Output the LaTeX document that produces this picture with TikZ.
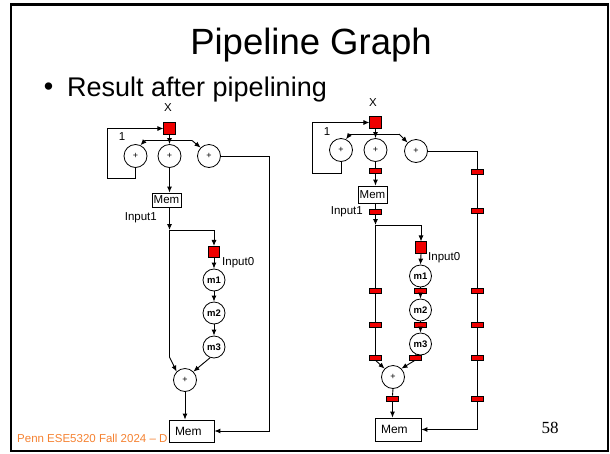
\documentclass[tikz,border=0pt]{standalone}
\usepackage{fontspec}
\setmainfont{Liberation Sans}
\newfontfamily\timesf{Liberation Serif}
\usetikzlibrary{arrows.meta}
\definecolor{pennorange}{RGB}{245,130,50}
\definecolor{regred}{RGB}{240,0,0}
\begin{document}
\begin{tikzpicture}[x=1pt,y=-1pt,
  every node/.style={inner sep=0pt},
  op/.style={circle,draw,line width=0.8pt,minimum size=23pt,fill=white,font=\fontsize{9}{9}\selectfont},
  mop/.style={circle,draw,line width=0.8pt,minimum size=22pt,fill=white,font=\bfseries\fontsize{9.5}{9.5}\selectfont},
  rsq/.style={draw,fill=regred,minimum size=11.5pt,line width=0.6pt},
  reg/.style={draw,fill=regred,minimum width=12pt,minimum height=5pt,line width=0.6pt},
  membox/.style={draw,fill=white,line width=0.8pt,font=\fontsize{11.5}{11.5}\selectfont},
  lbl/.style={font=\fontsize{11.5}{11.5}\selectfont},
  wire/.style={line width=0.9pt},
  arr/.style={wire,-{Latex[length=6pt,width=5pt]}},
]
\useasboundingbox (0,0) rectangle (610,453);
\draw[line width=2.3pt] (11.2,4.5) rectangle (608.3,451.3);

% titles
\node[font=\fontsize{36.5}{36.5}\selectfont] (title) at (311,45) {Pipeline Graph};
\node[font=\fontsize{27}{27}\selectfont] (bul) at (48.5,89) {•};
\node[font=\fontsize{27}{27}\selectfont,anchor=west] (sub) at (67,90) {Result after pipelining};
\node[font=\fontsize{11.5}{11.5}\selectfont,text=pennorange,anchor=west] (foot) at (17,438) {Penn ESE5320 Fall 2024 -- D};
\node[font=\timesf\fontsize{17}{17}\selectfont] (pg) at (550,428) {58};

% ---------------- left graph ----------------
\node[lbl] (xL) at (168,108) {X};
\node[rsq] (sqL) at (169.5,128.5) {};
\node[op] (aL) at (135.5,156) {+};
\node[op] (bL) at (169.5,156) {+};
\node[op] (cL) at (209,156) {+};
\node[lbl] (oneL) at (122,137) {1};
\node[membox,minimum width=29pt,minimum height=14pt] (memL1) at (166.5,200) {Mem};
\node[lbl,anchor=east] (in1L) at (157,218) {Input1};
\coordinate (jL) at (169.5,230);
\node[rsq] (sq2L) at (214,252) {};
\node[lbl,anchor=west] (in0L) at (222,263) {Input0};
\node[mop] (m1L) at (214,280) {m1};
\node[mop] (m2L) at (214,313) {m2};
\node[mop] (m3L) at (214,347) {m3};
\node[op] (pL) at (185,380) {+};
\node[membox,minimum height=22pt,text width=33pt,inner xsep=6pt,align=left,font=\fontsize{12}{12}\selectfont] (memL2) at (191.5,431) {Mem};
\coordinate (brLl) at (145,140.5);
\coordinate (brLr) at (192,140.5);
\coordinate (lpL) at (107,178.5);
\coordinate (rcL) at (269.5,156);
\coordinate (bendL) at (169.5,357);

\draw[arr] (aL.south) |- (lpL) |- (sqL.west);
\draw[arr] (sqL.south) -- (bL.north);
\draw[wire] (brLl) -- (brLr);
\draw[arr] (brLl) -- (aL.65);
\draw[arr] (brLr) -- (cL.135);
\draw[arr] (cL.east) -- (rcL) |- (memL2.east);
\draw[arr] (bL.south) -- (bL.south |- memL1.north);
\draw[arr] (memL1.south -| jL) -- (jL);
\draw[arr] (jL) -| (sq2L.north);
\draw[arr] (jL) -- (bendL) -- (pL.135);
\draw[arr] (sq2L.south) -- (m1L.north);
\draw[arr] (m1L.south) -- (m2L.north);
\draw[arr] (m2L.south) -- (m3L.north);
\draw[arr] (m3L.250) -- (pL.45);
\draw[arr] (pL.south) -- (pL.south |- memL2.north);

% ---------------- right graph ----------------
\node[lbl] (xR) at (373,103) {X};
\node[rsq] (sqR) at (375.5,122.5) {};
\node[op] (aR) at (341,150) {+};
\node[op] (bR) at (375.5,150) {+};
\node[op] (cR) at (416,151) {+};
\node[lbl] (oneR) at (327,132) {1};
\coordinate (lpR) at (312,173);
\coordinate (brRl) at (350,134);
\coordinate (brRr) at (399,134);
\node[reg] (r1) at (375.5,170.5) {};
\node[membox,minimum width=29pt,minimum height=17pt] (memR1) at (372.5,194.5) {Mem};
\node[lbl,anchor=east] (in1R) at (363,212) {Input1};
\node[reg] (r2) at (375.5,211.5) {};
\coordinate (jR) at (375.5,225);
\node[rsq] (sq2R) at (421,247.5) {};
\node[lbl,anchor=west] (in0R) at (428,258) {Input0};
\node[mop] (m1R) at (420.5,276) {m1};
\node[reg] (rm1) at (420.5,290.5) {};
\node[mop] (m2R) at (420.5,310) {m2};
\node[reg] (rm2) at (420.5,324.5) {};
\node[mop] (m3R) at (420.5,344) {m3};
\node[reg] (rm3) at (415,357.5) {};
\node[reg] (rl1) at (375.5,290.5) {};
\node[reg] (rl2) at (375.5,324.5) {};
\node[reg] (rl3) at (375.5,357.5) {};
\node[op] (pR) at (393,377) {+};
\node[reg] (rp) at (392.5,398.5) {};
\node[membox,minimum height=23pt,text width=34pt,inner xsep=6pt,align=left,font=\fontsize{12}{12}\selectfont] (memR2) at (398,429.5) {Mem};
\coordinate (rcR) at (477,151);
\node[reg] (rr1) at (477,171.5) {};
\node[reg] (rr2) at (477,210.5) {};
\node[reg] (rr3) at (477,290.5) {};
\node[reg] (rr4) at (477,324.5) {};
\node[reg] (rr5) at (477,357.5) {};
\node[reg] (rr6) at (477,398.5) {};

\draw[arr] (aR.south) |- (lpR) |- (sqR.west);
\draw[arr] (sqR.south) -- (bR.north);
\draw[wire] (brRl) -- (brRr);
\draw[arr] (brRl) -- (aR.65);
\draw[arr] (brRr) -- (cR.135);
\draw[wire] (bR.south) -- (r1.north);
\draw[arr] (r1.south) -- (r1.south |- memR1.north);
\draw[wire] (memR1.south -| r2) -- (r2.north);
\draw[arr] (r2.south) -- (jR);
\draw[arr] (jR) -| (sq2R.north);
\draw[arr] (sq2R.south) -- (m1R.north);
\draw[wire] (m1R.south) -- (rm1.north);
\draw[arr] (rm1.south) -- (m2R.north);
\draw[wire] (m2R.south) -- (rm2.north);
\draw[arr] (rm2.south) -- (m3R.north);
\draw[wire] (m3R.250) -- (rm3.north);
\draw[arr] (rm3.south) -- (pR.45);
\draw[wire] (jR) -- (rl1.north);
\draw[wire] (rl1.south) -- (rl2.north);
\draw[wire] (rl2.south) -- (rl3.north);
\draw[arr] (rl3.south) -- (pR.135);
\draw[wire] (pR.south) -- (rp.north);
\draw[arr] (rp.south) -- (rp.south |- memR2.north);
\draw[wire] (cR.east) -- (rcR) -- (rr1.north);
\draw[wire] (rr1.south) -- (rr2.north);
\draw[wire] (rr2.south) -- (rr3.north);
\draw[wire] (rr3.south) -- (rr4.north);
\draw[wire] (rr4.south) -- (rr5.north);
\draw[wire] (rr5.south) -- (rr6.north);
\draw[arr] (rr6.south) |- (memR2.east);
\end{tikzpicture}
\end{document}
